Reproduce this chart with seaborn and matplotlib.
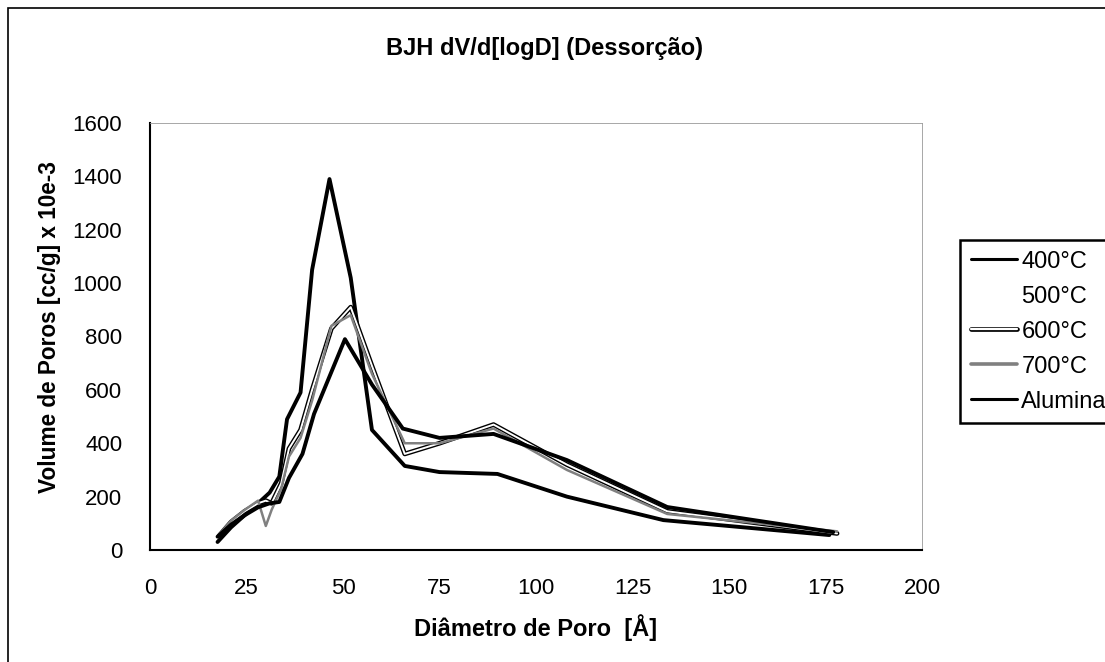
import numpy as np
import matplotlib
matplotlib.use('Agg')
import matplotlib.pyplot as plt
import matplotlib.patheffects as pe
from matplotlib.lines import Line2D
from matplotlib.patches import Rectangle
import seaborn as sns

# dados
x_400 = [17.5, 21, 24.5, 28, 31, 33.5, 35.5, 39, 42, 46.5, 52, 57.5, 66, 75, 90, 108, 133, 176]
y_400 = [30, 85, 130, 175, 215, 275, 490, 590, 1050, 1390, 1020, 450, 315, 292, 285, 200, 112, 56]

x_thin = [18, 21, 24.5, 28, 30, 31.5, 34, 36, 39, 42, 47, 52, 57.5, 66, 75, 89, 108, 134, 178]
y_500 = [50, 100, 140, 170, 170, 160, 240, 360, 430, 580, 800, 890, 700, 370, 410, 460, 310, 140, 60]
y_600 = [55, 105, 145, 175, 185, 175, 250, 380, 450, 600, 830, 910, 690, 360, 400, 470, 320, 145, 62]
y_700 = [60, 110, 150, 185, 90, 150, 230, 350, 420, 560, 840, 880, 660, 400, 400, 455, 300, 135, 70]

x_alu = [17.5, 21, 24.5, 28, 31, 33.5, 36, 39.5, 42.5, 50.5, 57.5, 65.5, 75, 89, 108, 134, 177]
y_alu = [50, 95, 130, 160, 175, 180, 270, 360, 510, 790, 620, 455, 420, 435, 337, 161, 67]

labels = ['400°C', '500°C', '600°C', '700°C', 'Alumina']
x_ticks = [0, 25, 50, 75, 100, 125, 150, 175, 200]
y_ticks = [0, 200, 400, 600, 800, 1000, 1200, 1400, 1600]

sns.set_style('white')
plt.rcParams['font.family'] = ['Liberation Sans', 'DejaVu Sans']
plt.rcParams['text.color'] = 'black'
plt.rcParams['axes.labelcolor'] = 'black'
plt.rcParams['xtick.color'] = 'black'
plt.rcParams['ytick.color'] = 'black'

fig = plt.figure(figsize=(11.05, 6.62), dpi=100)
ax = fig.add_axes([150 / 1105, 1 - 550 / 662, (922 - 150) / 1105, (550 - 123) / 662])

hollow = [pe.Stroke(linewidth=3.4, foreground='black'), pe.Normal()]

sns.lineplot(x=x_400, y=y_400, ax=ax, color='black', linewidth=2.8, sort=False, estimator=None, zorder=3)
sns.lineplot(x=x_thin, y=y_500, ax=ax, color='white', linewidth=1.4, sort=False, estimator=None, zorder=2)
sns.lineplot(x=x_thin, y=y_600, ax=ax, color='white', linewidth=1.4, sort=False, estimator=None, zorder=4,
             path_effects=hollow)
sns.lineplot(x=x_thin, y=y_700, ax=ax, color='#808080', linewidth=1.8, sort=False, estimator=None, zorder=4)
sns.lineplot(x=x_alu, y=y_alu, ax=ax, color='black', linewidth=2.8, sort=False, estimator=None, zorder=5)

ax.set_xlim(0, 200)
ax.set_ylim(0, 1600)
ax.set_xticks(x_ticks)
ax.set_yticks(y_ticks)
ax.tick_params(axis='both', labelsize=16, direction='out', length=6, width=1, pad=14)
ax.tick_params(axis='x', pad=14)

for side in ['left', 'bottom']:
    ax.spines[side].set_color('black')
    ax.spines[side].set_linewidth(1.5)
for side in ['top', 'right']:
    ax.spines[side].set_color('#999999')
    ax.spines[side].set_linewidth(0.6)

ax.set_xlabel('Diâmetro de Poro  [Å]', fontsize=17, fontweight='bold', labelpad=11)
ax.set_ylabel('Volume de Poros [cc/g] x 10e-3', fontsize=16.3, fontweight='bold', labelpad=8)
ax.yaxis.label.set_y(0.522)
fig.text(545 / 1105, 1 - 48 / 662, 'BJH dV/d[logD] (Dessorção)', ha='center', va='center',
         fontsize=17, fontweight='bold')

# legenda
handles = [
    Line2D([], [], color='black', linewidth=2.2),
    Line2D([], [], color='white', linewidth=1.4),
    Line2D([], [], color='white', linewidth=1.6, path_effects=hollow),
    Line2D([], [], color='#808080', linewidth=2.6),
    Line2D([], [], color='black', linewidth=2.2),
]
leg = fig.legend(handles, labels, loc='upper left', bbox_to_anchor=(960 / 1105, 1 - 240 / 662),
                 fontsize=17, frameon=True, fancybox=False, edgecolor='black', framealpha=1,
                 handlelength=1.95, handletextpad=0.2, labelspacing=0.55, borderpad=0.45,
                 borderaxespad=0)
leg.get_frame().set_linewidth(1.8)

# moldura externa
fig.patches.append(Rectangle((8 / 1105, -0.05), 1.2, 1 - 8 / 662 + 0.05, transform=fig.transFigure,
                             fill=False, edgecolor='black', linewidth=1.2))

fig.savefig('out.png', dpi=100)
